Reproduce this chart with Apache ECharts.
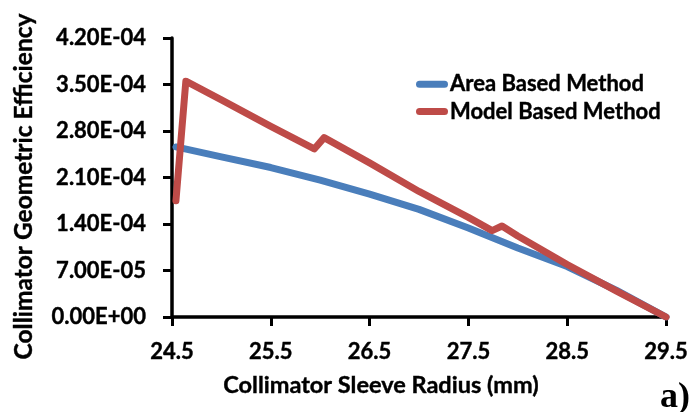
<!DOCTYPE html>
<html>
<head>
<meta charset="utf-8">
<script src="https://cdn.jsdelivr.net/npm/echarts@6/dist/echarts.min.js"></script>
<style>
  html, body { margin: 0; padding: 0; background: #fff; }
  #chart { width: 696px; height: 412px; }
</style>
</head>
<body>
<div id="chart"></div>
<script>
// Collimator sleeve radius (mm) and geometric efficiency for the two methods
const areaRadius = [24.54, 25.0, 25.5, 26.0, 26.5, 27.0, 27.5, 28.0, 28.5, 29.0, 29.5];
const areaEff = [2.56e-4, 2.41e-4, 2.25e-4, 2.06e-4, 1.85e-4, 1.62e-4, 1.34e-4, 1.04e-4, 7.6e-5, 4.0e-5, 0];

const modelRadius = [24.54, 24.64, 25.0, 25.5, 25.94, 26.04, 26.5, 27.0, 27.5, 27.74, 27.84, 28.0, 28.5, 29.0, 29.5];
const modelEff = [1.75e-4, 3.55e-4, 3.27e-4, 2.87e-4, 2.53e-4, 2.70e-4, 2.32e-4, 1.89e-4, 1.50e-4, 1.30e-4, 1.37e-4, 1.22e-4, 7.9e-5, 3.9e-5, 0];

const seriesNames = ['Area Based Method', 'Model Based Method'];
const xTitle = 'Collimator Sleeve Radius (mm)';
const yTitle = 'Collimator Geometric Efficiency';
const panelTag = 'a)';

const FONT = 'Lato';
// slight outline to give the bold text a heavier look
const heavy = { textBorderColor: '#000', textBorderWidth: 0.4 };

function pairs(xs, ys) {
  return xs.map((x, i) => [x, ys[i]]);
}

// Scientific label like 4.20E-04
function sci(v) {
  const s = Number(v).toExponential(2);
  const [m, e] = s.split('e');
  const n = parseInt(e, 10);
  const sign = n < 0 ? '-' : '+';
  const ab = Math.abs(n);
  return m + 'E' + sign + (ab < 10 ? '0' + ab : String(ab));
}

const chart = echarts.init(document.getElementById('chart'), null, { renderer: 'canvas' });

const axisLineStyle = { color: '#000', width: 3.5 };

chart.setOption({
  animation: false,
  backgroundColor: '#ffffff',
  grid: { left: 172, right: 30, top: 38, bottom: 95, containLabel: false },
  legend: {
    orient: 'vertical',
    left: 411,
    top: 68,
    itemWidth: 32,
    itemHeight: 7,
    itemGap: 5,
    icon: 'path://M3.5,0 L28.5,0 A3.5,3.5 0 0 1 28.5,7 L3.5,7 A3.5,3.5 0 0 1 3.5,0 Z',
    textStyle: Object.assign({ fontFamily: FONT, fontWeight: 'bold', fontSize: 22, color: '#000', padding: [0, 0, 0, -3] }, heavy),
    data: seriesNames
  },
  xAxis: {
    type: 'value',
    min: 24.5,
    max: 29.5,
    interval: 1,
    name: xTitle,
    nameLocation: 'middle',
    nameGap: 56,
    nameTextStyle: Object.assign({ fontFamily: FONT, fontWeight: 'bold', fontSize: 23.5, color: '#000', padding: [0, 76, 0, 0] }, heavy),
    axisLine: { lineStyle: axisLineStyle },
    axisTick: { show: true, inside: false, length: 9, lineStyle: { color: '#000', width: 3 } },
    axisLabel: Object.assign({ margin: 24, fontFamily: FONT, fontWeight: 'bold', fontSize: 22, color: '#000',
      formatter: v => v.toFixed(1) }, heavy),
    splitLine: { show: false }
  },
  yAxis: {
    type: 'value',
    min: 0,
    max: 4.2e-4,
    interval: 7e-5,
    name: yTitle,
    nameLocation: 'middle',
    nameGap: 135,
    nameRotate: 90,
    nameTextStyle: Object.assign({ fontFamily: FONT, fontWeight: 'bold', fontSize: 24.5, color: '#000', padding: [0, 18, 0, 0] }, heavy),
    axisLine: { show: true, lineStyle: axisLineStyle },
    axisTick: { show: true, inside: false, length: 9, lineStyle: { color: '#000', width: 3 } },
    axisLabel: Object.assign({ margin: 26, fontFamily: FONT, fontWeight: 'bold', fontSize: 22, color: '#000', formatter: sci }, heavy),
    splitLine: { show: false }
  },
  series: [
    {
      name: seriesNames[0],
      type: 'line',
      data: pairs(areaRadius, areaEff),
      showSymbol: false,
      symbol: 'none',
      color: '#4A7EBB',
      lineStyle: { width: 7, color: '#4A7EBB', cap: 'round', join: 'round' },
      z: 2
    },
    {
      name: seriesNames[1],
      type: 'line',
      data: pairs(modelRadius, modelEff),
      showSymbol: false,
      symbol: 'none',
      color: '#BE4B48',
      lineStyle: { width: 7, color: '#BE4B48', cap: 'round', join: 'round' },
      z: 3
    }
  ],
  graphic: [
    {
      type: 'text',
      left: 660,
      top: 380,
      style: { text: panelTag, font: 'bold 36px "Liberation Serif"', fill: '#000' }
    }
  ]
});
</script>
</body>
</html>
